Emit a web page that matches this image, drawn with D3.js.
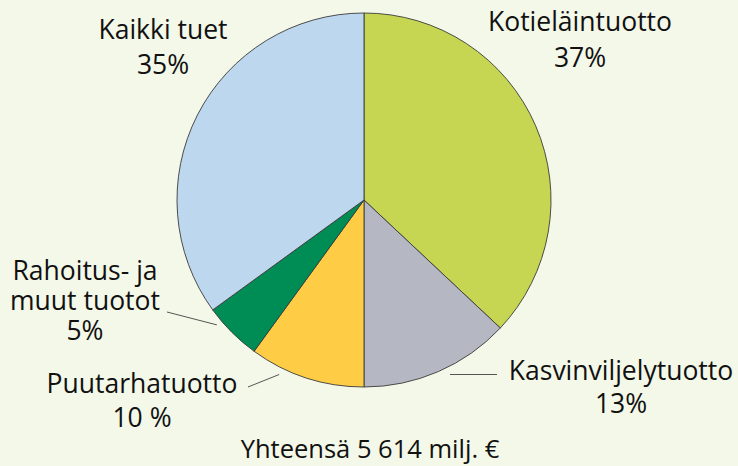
<!DOCTYPE html>
<html><head><meta charset="utf-8">
<script src="https://cdn.jsdelivr.net/npm/d3@7"></script>
<style>
html,body{margin:0;padding:0;background:#f4f8e8;}
svg{display:block;}
text{font-family:"Open Sans","Noto Sans",sans-serif;fill:#111;}
</style></head><body>
<svg id="c" width="738" height="466"></svg>
<script>
const categories = ["Kotieläintuotto","Kasvinviljelytuotto","Puutarhatuotto","Rahoitus- ja muut tuotot","Kaikki tuet"];
const values = [37, 13, 10, 5, 35];
const colors = ["#c6d652","#b5b8c3","#ffcd45","#008c55","#bdd7ef"];
const labelLines = [["Kotieläintuotto","37%"],["Kasvinviljelytuotto","13%"],["Puutarhatuotto","10 %"],["Rahoitus- ja","muut tuotot","5%"],["Kaikki tuet","35%"]];
const total = "Yhteensä 5 614 milj. €";

const svg = d3.select("#c");
svg.append("rect").attr("width",738).attr("height",466).attr("fill","#f4f8e8");
const cx = 364, cy = 200, r = 187;
const pie = d3.pie().sort(null).value(d=>d)(values);
const arc = d3.arc().innerRadius(0).outerRadius(r);
const g = svg.append("g").attr("transform",`translate(${cx},${cy})`);
g.selectAll("path").data(pie).enter().append("path")
  .attr("d",arc).attr("fill",(d,i)=>colors[i])
  .attr("stroke","#3a3a3a").attr("stroke-width",0.9).attr("stroke-linejoin","round");

const labelPos = [
  {x:580,y:31,lh:36},
  {x:621,y:380,lh:33},
  {x:142,y:393,lh:34},
  {x:85,y:280,lh:30},
  {x:163,y:39,lh:35}
];
const fs = 26.5;
labelLines.forEach((lines,i)=>{
  const t = svg.append("text").attr("text-anchor","middle").attr("font-size",fs);
  lines.forEach((l,j)=>{
    t.append("tspan").attr("x",labelPos[i].x).attr("y",labelPos[i].y + j*labelPos[i].lh).text(l);
  });
});
// leader lines: start point near label, end at slice angle just outside the pie
const leaders = [
  {i:2, from:[248,387], f:0.72, rr:194},
  {i:3, from:[167,312], f:0.76, rr:193}
];
leaders.forEach(L=>{
  const d = pie[L.i];
  const a = d.startAngle + (d.endAngle-d.startAngle)*L.f;
  const ex = cx + Math.sin(a)*L.rr, ey = cy - Math.cos(a)*L.rr;
  svg.append("line").attr("x1",L.from[0]).attr("y1",L.from[1]).attr("x2",ex).attr("y2",ey)
    .attr("stroke","#555").attr("stroke-width",1);
});
svg.append("line").attr("x1",450).attr("y1",374.5).attr("x2",497).attr("y2",374.5)
  .attr("stroke","#555").attr("stroke-width",1);
svg.append("text").attr("x",370).attr("y",458).attr("text-anchor","middle").attr("font-size",25.5).text(total);
</script></body></html>
